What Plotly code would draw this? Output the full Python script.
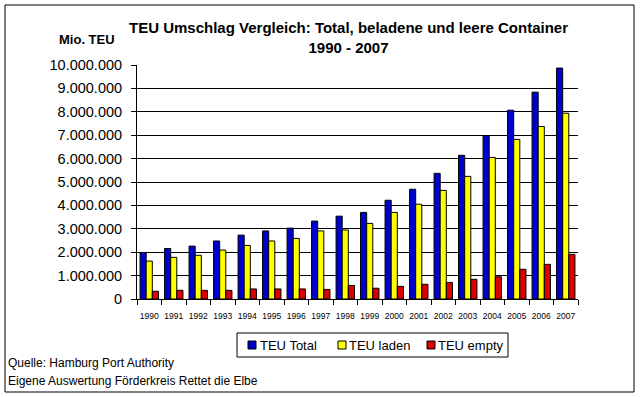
import plotly.graph_objects as go

years = [str(y) for y in range(1990, 2008)]
teu_total = [1980000, 2160000, 2260000, 2480000, 2730000, 2910000, 3030000, 3330000, 3540000,
             3700000, 4220000, 4690000, 5370000, 6140000, 6980000, 8070000, 8840000, 9870000]
teu_laden = [1620000, 1780000, 1870000, 2090000, 2290000, 2480000, 2590000, 2910000, 2950000,
             3230000, 3700000, 4050000, 4640000, 5240000, 6050000, 6820000, 7370000, 7940000]
teu_empty = [330000, 370000, 370000, 370000, 430000, 430000, 430000, 410000, 580000,
             460000, 540000, 630000, 710000, 840000, 950000, 1270000, 1480000, 1910000]

series_names = ["TEU Total", "TEU laden", "TEU empty"]
colors = ["#0000CC", "#FFFF00", "#DD0000"]

FONT = "Arial, Liberation Sans, sans-serif"

# plot area in pixels
PL, PR, PT, PB = 137, 578, 65, 299


def px(x):
    return (x - PL) / (PR - PL)


def py(y):
    return (PB - y) / (PB - PT)


fig = go.Figure()
for name, vals, col in zip(series_names, [teu_total, teu_laden, teu_empty], colors):
    fig.add_trace(go.Bar(x=years, y=vals, name=name,
                         marker=dict(color=col, line=dict(color="black", width=1))))

fig.update_layout(
    width=640, height=397,
    margin=dict(l=PL, r=640 - PR, t=PT, b=397 - PB, autoexpand=False),
    paper_bgcolor="white", plot_bgcolor="white",
    separators=",.",
    barmode="group", bargap=0.25, bargroupgap=0,
    font=dict(family=FONT, color="black"),
    showlegend=False,
)
fig.update_xaxes(type="category", tickson="boundaries", ticks="outside", ticklen=5,
                 tickcolor="black", showline=True, linecolor="black", linewidth=1,
                 tickfont=dict(size=8.5, family=FONT), tickangle=0, showgrid=False,
                 automargin=False, ticklabelstandoff=9)
fig.update_yaxes(range=[0, 10000000], dtick=1000000, tickformat=",d", ticks="outside",
                 ticklen=5, tickcolor="black", showline=True, linecolor="black", linewidth=1,
                 showgrid=True, gridcolor="black", gridwidth=1, zeroline=False,
                 tickfont=dict(size=14.5, family=FONT), automargin=False,
                 ticklabelstandoff=6)

# outer frame
fig.add_shape(type="rect", xref="paper", yref="paper",
              x0=px(5), x1=px(634), y0=py(392), y1=py(5),
              line=dict(color="black", width=1), fillcolor="rgba(0,0,0,0)", layer="below")

fig.add_annotation(text="<b>TEU Umschlag Vergleich: Total, beladene und leere Container</b><br><b>1990 - 2007</b>",
                   xref="paper", yref="paper", x=px(348), y=py(17),
                   xanchor="center", yanchor="top", showarrow=False,
                   font=dict(size=15, family=FONT), align="center")
fig.add_annotation(text="<b>Mio. TEU</b>", xref="paper", yref="paper",
                   x=px(57), y=py(40), xanchor="left", yanchor="middle",
                   showarrow=False, font=dict(size=13, family=FONT))
fig.add_annotation(text="Quelle: Hamburg Port Authority", xref="paper", yref="paper",
                   x=px(6), y=py(363), xanchor="left", yanchor="middle",
                   showarrow=False, font=dict(size=12, family=FONT))
fig.add_annotation(text="Eigene Auswertung Förderkreis Rettet die Elbe", xref="paper", yref="paper",
                   x=px(6), y=py(381), xanchor="left", yanchor="middle",
                   showarrow=False, font=dict(size=12, family=FONT))

# legend box
fig.add_shape(type="rect", xref="paper", yref="paper",
              x0=px(237), x1=px(508), y0=py(357), y1=py(333),
              line=dict(color="black", width=1), fillcolor="white")
sym_x = [248, 338, 427]
txt_x = [258, 347, 436]
for name, col, sx, tx in zip(series_names, colors, sym_x, txt_x):
    fig.add_shape(type="rect", xref="paper", yref="paper",
                  x0=px(sx), x1=px(sx + 8), y0=py(349), y1=py(341),
                  line=dict(color="black", width=1), fillcolor=col)
    fig.add_annotation(text=name, xref="paper", yref="paper", x=px(tx), y=py(345.5),
                       xanchor="left", yanchor="middle", showarrow=False,
                       font=dict(size=13, family=FONT))

fig.write_html("out.html", config={"displayModeBar": False},
               post_script="document.body.style.margin='0';")
